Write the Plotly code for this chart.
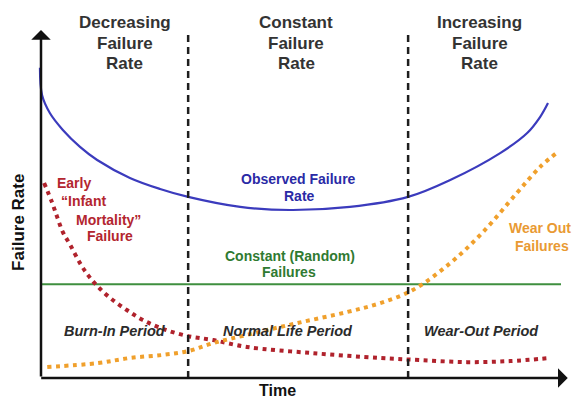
import plotly.graph_objects as go

# ---- data (time 0..100, failure rate 0..100) ----
observed_time = [-0.2, 0.2, 1.7, 4.2, 7.5, 10.8, 17.1, 22.9, 28.3, 38.3, 47.9, 59.4, 70.6, 78.7, 88.3, 93.5, 96.0, 97.5]
observed_rate = [89.9, 82.0, 76.8, 71.9, 67.0, 63.2, 58.0, 54.8, 52.5, 49.6, 48.7, 49.6, 52.5, 57.4, 65.2, 71.0, 75.7, 79.7]

infant_time = [0.6, 2.1, 3.1, 4.2, 5.6, 7.5, 9.0, 10.8, 13.3, 16.5, 19.6, 23.5, 28.1, 33.1, 39.6, 52.3, 65.2, 72.9, 81.9, 90.2, 97.9]
infant_rate = [56.5, 51.0, 46.7, 42.3, 38.6, 33.3, 29.9, 26.7, 23.2, 19.7, 16.8, 14.2, 12.2, 11.0, 9.0, 7.2, 5.8, 5.2, 4.6, 4.9, 5.8]

wearout_time = [1.2, 10.8, 17.1, 23.5, 28.3, 33.1, 39.6, 49.2, 58.8, 65.2, 71.5, 78.7, 85.0, 91.5, 96.0, 99.4]
wearout_rate = [3.2, 4.3, 5.8, 6.7, 7.8, 10.1, 12.5, 15.9, 19.1, 21.7, 25.5, 33.3, 42.3, 53.6, 61.2, 65.5]

random_time = [0.2, 100.0]
random_rate = [27.2, 27.2]

period_bounds = [28.3, 70.6]
rate_top = 100.0

header_labels = [["Decreasing", "Failure", "Rate"],
                 ["Constant", "Failure", "Rate"],
                 ["Increasing", "Failure", "Rate"]]
period_labels = ["Burn-In Period", "Normal Life Period", "Wear-Out Period"]
observed_label = ["Observed Failure", "Rate"]
infant_label = ["Early", "\u201cInfant", "Mortality\u201d", "Failure"]
random_label = ["Constant (Random)", "Failures"]
wearout_label = ["Wear Out", "Failures"]
x_title = "Time"
y_title = "Failure Rate"

# ---- colours / fonts ----
BLUE = "#3b3bbd"
BLUE_T = "#2a2aa6"
RED = "#b0222c"
RED_T = "#b3262f"
GREEN = "#3f8f3f"
GREEN_T = "#2f7a31"
ORANGE = "#f0a02c"
ORANGE_T = "#e99a33"
DARK = "#2b2b2b"
FONT = "Liberation Sans, Arial, sans-serif"

fig = go.Figure()

fig.add_trace(go.Scatter(x=random_time, y=random_rate, mode="lines",
                         line=dict(color=GREEN, width=2), hoverinfo="skip"))
fig.add_trace(go.Scatter(x=infant_time, y=infant_rate, mode="lines",
                         line=dict(color=RED, width=4, dash="4px,4.5px", shape="spline"),
                         hoverinfo="skip"))
fig.add_trace(go.Scatter(x=wearout_time, y=wearout_rate, mode="lines",
                         line=dict(color=ORANGE, width=4, dash="4px,4.5px", shape="spline"),
                         hoverinfo="skip"))
fig.add_trace(go.Scatter(x=observed_time, y=observed_rate, mode="lines",
                         line=dict(color=BLUE, width=2.2, shape="spline"),
                         hoverinfo="skip"))

# period boundaries
for b in period_bounds:
    fig.add_shape(type="line", xref="x", yref="y", x0=b, x1=b, y0=0, y1=rate_top,
                  line=dict(color="#1e1e1e", width=2.5, dash="7px,5px"))

annotations = []

# axes with arrows
annotations.append(dict(x=0, y=100.9, ax=0, ay=0, xref="x", yref="y", axref="x", ayref="y",
                        showarrow=True, arrowhead=1, arrowsize=1.3, arrowwidth=2.5,
                        arrowcolor="#111", text=""))
annotations.append(dict(x=101.3, y=0, ax=-0.25, ay=0, xref="x", yref="y", axref="x", ayref="y",
                        showarrow=True, arrowhead=1, arrowsize=1.3, arrowwidth=2.5,
                        arrowcolor="#111", text=""))


def txt(s, x, y, color, size, weight="bold", style="normal", angle=0):
    annotations.append(dict(x=x, y=y, xref="x", yref="y", text=s, showarrow=False,
                            xanchor="center", yanchor="middle", textangle=angle,
                            font=dict(family=FONT, size=size, color=color,
                                      weight=weight, style=style)))


header_x = [16.06, 49.13, 84.33]
header_y = [102.9, 97.1, 91.3]
for hx, lines in zip(header_x, header_labels):
    for hy, line in zip(header_y, lines):
        txt(line, hx, hy, "#333333", 17)

for s, x, y in zip(observed_label, [49.6, 49.8], [57.7, 52.8]):
    txt(s, x, y, BLUE_T, 14)

for s, x, y in zip(infant_label, [6.25, 8.13, 12.94, 13.27], [56.5, 51.4, 45.8, 41.2]):
    txt(s, x, y, RED_T, 14)

for s, x, y in zip(random_label, [47.8, 47.7], [35.4, 30.7]):
    txt(s, x, y, GREEN_T, 14)

for s, x, y in zip(wearout_label, [96.0, 96.25], [43.5, 38.3]):
    txt(s, x, y, ORANGE_T, 14)

for s, x in zip(period_labels, [14.2, 47.5, 84.7]):
    txt(s, x, 13.5, DARK, 14.5, style="italic")

txt(x_title, 45.4, -3.5, "#111111", 16)
txt(y_title, -4.33, 45.1, "#111111", 17, angle=-90)

fig.update_layout(
    width=572, height=401,
    margin=dict(l=0, r=0, t=0, b=0),
    paper_bgcolor="white", plot_bgcolor="white",
    showlegend=False,
    xaxis=dict(range=[-7.885, 102.115], visible=False, fixedrange=True),
    yaxis=dict(range=[-6.667, 109.565], visible=False, fixedrange=True),
    annotations=annotations,
)

fig.write_html("out.html",
               config={"displayModeBar": False},
               post_script="document.body.style.margin='0';document.body.style.overflow='hidden';")
